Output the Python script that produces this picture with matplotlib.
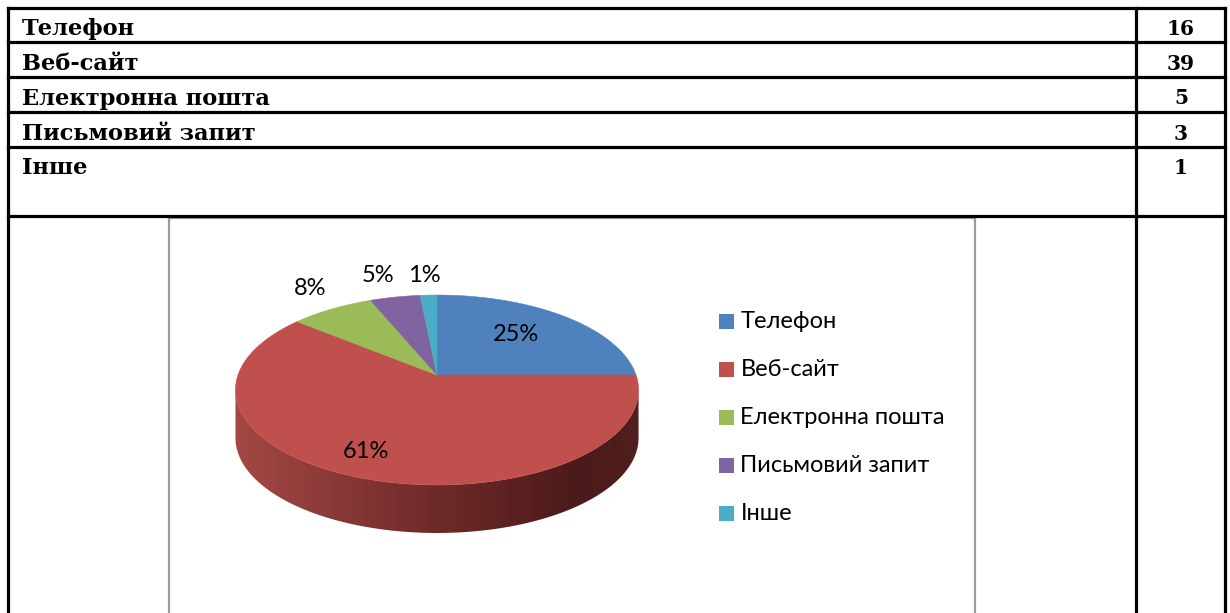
import numpy as np
import matplotlib
matplotlib.use("Agg")
import matplotlib.pyplot as plt
from matplotlib.patches import Polygon, Rectangle
from matplotlib.colors import LinearSegmentedColormap

# ---- data ----
categories = ['Телефон', 'Веб-сайт', 'Електронна пошта', 'Письмовий запит', 'Інше']
counts = [16, 39, 5, 3, 1]
pct_labels = ['25%', '61%', '8%', '5%', '1%']
colors = ['#4f81bd', '#c0504d', '#9bbb59', '#8064a2', '#4bacc6']

# ---- figure ----
W, H = 1230, 613
fig = plt.figure(figsize=(W / 100, H / 100), dpi=100)
ax = fig.add_axes([0, 0, 1, 1])
ax.axis('off')

NAME_FONT = dict(family='DejaVu Serif', weight='bold', size=16.2, color='black')
NUM_FONT = dict(family='DejaVu Serif', weight='bold', size=14.5, color='black')
CHART_FONT = ['Lato', 'DejaVu Sans']

# ---- table ----
left, right, mid = 7.5, 1225, 1135.5
row_lines = [7.5, 42, 77, 112, 146.5, 216]
lw_tab = 2.3
for y in row_lines:
    ax.plot([left, right], [y, y], color='black', lw=lw_tab, solid_capstyle='projecting', zorder=5)
for x in [left, mid, right]:
    ax.plot([x, x], [row_lines[0], H + 5], color='black', lw=lw_tab, solid_capstyle='projecting', zorder=5)

row_tops = row_lines[:5]
for i, (cat, cnt) in enumerate(zip(categories, counts)):
    ybase = row_tops[i] + 27.5
    ax.text(22, ybase, cat, ha='left', va='baseline', **NAME_FONT, zorder=6)
    ax.text(1181, ybase, str(cnt), ha='center', va='baseline', **NUM_FONT, zorder=6)

# ---- chart frame ----
frame_l, frame_r, frame_t = 168.5, 975, 217.5
ax.plot([frame_l, frame_r], [frame_t, frame_t], color='#9a9a9a', lw=1.6, zorder=4)
ax.plot([frame_l, frame_l], [frame_t, H + 5], color='#9a9a9a', lw=1.6, zorder=4)
ax.plot([frame_r, frame_r], [frame_t, H + 5], color='#9a9a9a', lw=1.6, zorder=4)

# ---- 3D pie (perspective projection of a tilted disc) ----
cx, cy = 437, 375
a, b, k = 199.0, 92.6, 0.158
depth = 48


def proj(r, th):
    w = 1 + k * r * np.sin(th)
    return cx + a * r * np.cos(th) / w, cy - b * r * np.sin(th) / w


total = float(sum(counts))
fracs = np.array(counts) / total
cum = np.concatenate([[0], np.cumsum(fracs)])
start = np.deg2rad(90)

# side wall (front half of the rim)
t_side = np.linspace(np.pi + np.arcsin(k), 2 * np.pi - np.arcsin(k), 300)
ux, uy = proj(1.0, t_side)
side_pts = np.vstack([np.column_stack([ux, uy]),
                      np.column_stack([ux[::-1], uy[::-1] + depth])])
side_poly = Polygon(side_pts, closed=True, facecolor='none', edgecolor='none')
ax.add_patch(side_poly)
grad_cmap = LinearSegmentedColormap.from_list(
    'side', [(0, '#a34845'), (0.5, '#6e2a28'), (0.85, '#4b1a1a'), (1.0, '#521e1e')])
grad = np.linspace(0, 1, 256).reshape(1, -1)
im = ax.imshow(grad, cmap=grad_cmap, aspect='auto',
               extent=(ux.min(), ux.max(), uy.max() + depth + 2, uy.min() - 2),
               zorder=1, interpolation='bilinear')
im.set_clip_path(side_poly)

# top face wedges
for i in range(len(counts)):
    th0 = start - cum[i] * 2 * np.pi
    th1 = start - cum[i + 1] * 2 * np.pi
    t = np.linspace(th0, th1, max(3, int(abs(th1 - th0) * 80)))
    px, py = proj(1.0, t)
    pts = np.vstack([[cx, cy], np.column_stack([px, py])])
    ax.add_patch(Polygon(pts, closed=True, facecolor=colors[i],
                         edgecolor=colors[i], lw=0.4, zorder=2))

# data labels
label_r = [0.6, 0.78, 1.25, 1.25, 1.25]
label_nudge = [(0, -4), (-12, 0), (1, -6), (-8, -5), (-2, -3)]
for i, lab in enumerate(pct_labels):
    thm = start - (cum[i] + cum[i + 1]) / 2 * 2 * np.pi
    lx, ly = proj(label_r[i], thm)
    ax.text(lx + label_nudge[i][0], ly + label_nudge[i][1], lab,
            ha='center', va='center', family=CHART_FONT, size=17, color='black', zorder=3)

# legend
leg_x, leg_y0, leg_dy = 718.5, 321, 48
for i, cat in enumerate(categories):
    y = leg_y0 + i * leg_dy
    ax.add_patch(Rectangle((leg_x, y - 7.5), 15, 15, facecolor=colors[i], edgecolor='none', zorder=3))
    ax.text(leg_x + 22, y, cat, ha='left', va='center', family=CHART_FONT,
            size=17, color='black', zorder=3)

ax.set_xlim(0, W)
ax.set_ylim(H, 0)
ax.set_aspect('auto')
fig.savefig('out.png', dpi=100, facecolor='white')
